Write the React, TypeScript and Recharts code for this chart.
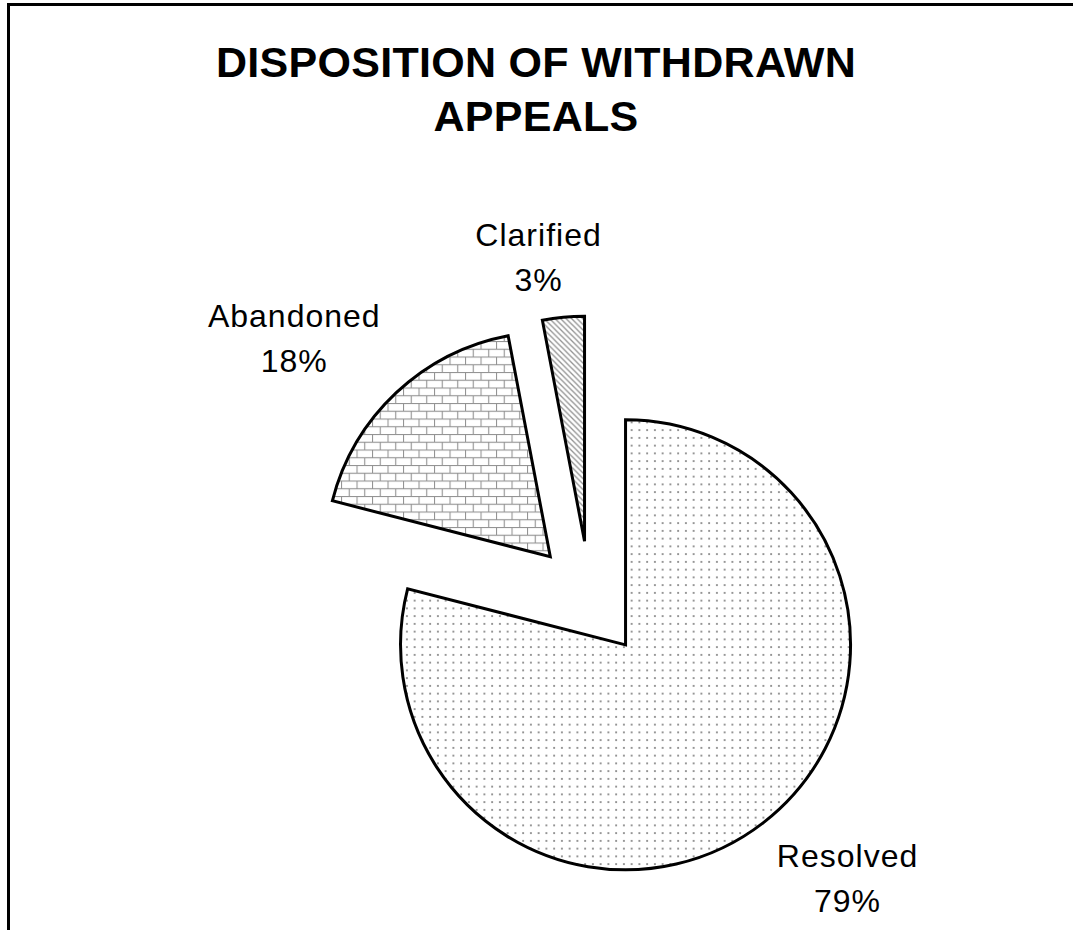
import { PieChart, Pie, Cell } from "recharts";

const categories = ["Resolved", "Abandoned", "Clarified"];
const shares = [79, 18, 3];

const data = categories.map((name, i) => ({ name, value: shares[i] }));

// pattern fills, same order as categories
const FILLS = ["url(#dots)", "url(#bricks)", "url(#diag)"];
// label anchor (centre x, first baseline) relative to each slice's apex
const LABEL_OFFSETS = [
  [222, 222],
  [-256, -230],
  [-46, -295],
];

const CENTER = { x: 590, y: 599 };
const EXPLODE = 58;
const RADIUS = 225;
const FONT = "'Liberation Sans', Arial, Helvetica, sans-serif";

const total = shares.reduce((a, b) => a + b, 0);

// every slice is pulled out along its mid angle (clockwise from 12 o'clock)
function sliceCenter(i: number) {
  const before = shares.slice(0, i).reduce((a, b) => a + b, 0);
  const mid = ((before + shares[i] / 2) / total) * 2 * Math.PI;
  return {
    cx: CENTER.x + EXPLODE * Math.sin(mid),
    cy: CENTER.y - EXPLODE * Math.cos(mid),
  };
}

const renderLabel = (slice: number) => (props: any) => {
  if (props.index !== slice) return null;
  const [dx, dy] = LABEL_OFFSETS[slice];
  const x = props.cx + dx;
  const y = props.cy + dy;
  return (
    <text
      x={x}
      y={y}
      textAnchor="middle"
      fontFamily={FONT}
      fontSize={32}
      letterSpacing={1}
      fill="#000"
    >
      <tspan x={x} dy={0}>
        {props.name}
      </tspan>
      <tspan x={x} dy={45}>
        {Math.round(props.percent * 100)}%
      </tspan>
    </text>
  );
};

export default function App() {
  return (
    <div style={{ position: "relative", width: 1073, height: 930, overflow: "hidden", background: "#fff" }}>
      <style>{"body { margin: 0; }"}</style>
      {/* chart frame: only its top and left edges fall inside the picture */}
      <div
        style={{
          position: "absolute",
          left: 7,
          top: 3,
          width: 1200,
          height: 1100,
          border: "3px solid #000",
          boxSizing: "border-box",
        }}
      />
      <PieChart
        width={1073}
        height={930}
        margin={{ top: 0, right: 0, bottom: 0, left: 0 }}
        style={{ position: "absolute", left: 0, top: 0 }}
      >
        <defs>
          <pattern id="dots" patternUnits="userSpaceOnUse" width={7.75} height={7.75}>
            <rect width={7.75} height={7.75} fill="#fff" />
            <circle cx={3.9} cy={3.9} r={1} fill="#777" />
          </pattern>
          <pattern id="bricks" patternUnits="userSpaceOnUse" width={15.5} height={15.5}>
            <rect width={15.5} height={15.5} fill="#fff" />
            <g stroke="#929292" strokeWidth={1.1}>
              <line x1={0} y1={0.5} x2={15.5} y2={0.5} />
              <line x1={0} y1={8.25} x2={15.5} y2={8.25} />
              <line x1={0.5} y1={0} x2={0.5} y2={7.75} />
              <line x1={8.25} y1={7.75} x2={8.25} y2={15.5} />
            </g>
          </pattern>
          <pattern id="diag" patternUnits="userSpaceOnUse" width={5.5} height={5.5}>
            <rect width={5.5} height={5.5} fill="#fff" />
            <g stroke="#929292" strokeWidth={1.3}>
              <line x1={0} y1={0} x2={5.5} y2={5.5} />
              <line x1={-1} y1={4.5} x2={1} y2={6.5} />
              <line x1={4.5} y1={-1} x2={6.5} y2={1} />
            </g>
          </pattern>
        </defs>

        <text x={536} y={77} textAnchor="middle" fontFamily={FONT} fontWeight="bold" fontSize={43} letterSpacing={0.3} fill="#000">
          DISPOSITION OF WITHDRAWN
        </text>
        <text x={536} y={131} textAnchor="middle" fontFamily={FONT} fontWeight="bold" fontSize={43} letterSpacing={0.3} fill="#000">
          APPEALS
        </text>

        {categories.map((cat, slice) => {
          const { cx, cy } = sliceCenter(slice);
          return (
            <Pie
              key={cat}
              data={data}
              dataKey="value"
              nameKey="name"
              cx={cx}
              cy={cy}
              innerRadius={0}
              outerRadius={RADIUS}
              startAngle={90}
              endAngle={-270}
              labelLine={false}
              label={renderLabel(slice)}
              isAnimationActive={false}
            >
              {data.map((d, i) => (
                <Cell
                  key={d.name}
                  fill={i === slice ? FILLS[i] : "none"}
                  stroke={i === slice ? "#000" : "none"}
                  strokeWidth={3}
                />
              ))}
            </Pie>
          );
        })}
      </PieChart>
    </div>
  );
}
